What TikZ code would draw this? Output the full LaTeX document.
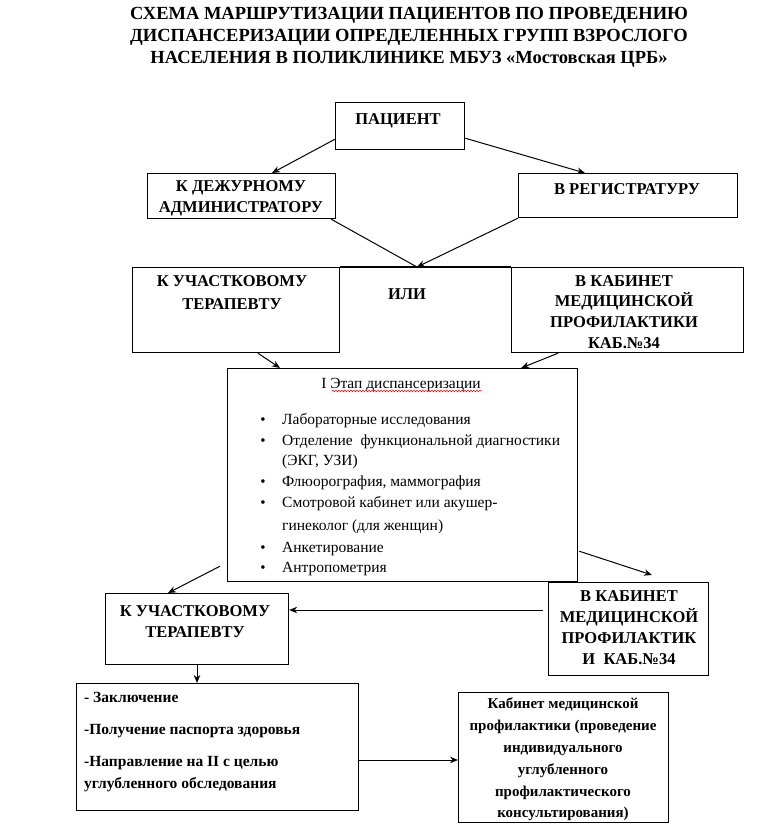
\documentclass[tikz,border=0pt]{standalone}
\usepackage{fontspec}
\setmainfont{Liberation Serif}[BoldFont={Liberation Serif Bold},ItalicFont={Liberation Serif Italic}]
\usetikzlibrary{arrows.meta,calc,decorations.pathmorphing}
\begin{document}
\begin{tikzpicture}[x=1pt,y=-1pt,
  box/.style={draw,line width=1.2pt,inner sep=0pt,anchor=north west},
  btxt/.style={font=\fontsize{16.5}{21}\selectfont\bfseries,align=center,anchor=north,inner sep=0pt},
  ltxt/.style={font=\fontsize{15.5}{18}\selectfont,anchor=base west,inner sep=0pt},
  bul/.style={font=\fontsize{15}{18}\selectfont,anchor=base,inner sep=0pt},
  arr/.style={line width=1pt,-{Stealth[length=8pt,width=6.5pt]}},
  ln/.style={line width=1pt}]
\useasboundingbox (0,0) rectangle (768,839);
% title
\node[font=\fontsize{18.5}{22}\selectfont\bfseries,align=center,anchor=north,inner sep=0pt] (title) at (409,7)
 {СХЕМА МАРШРУТИЗАЦИИ ПАЦИЕНТОВ ПО ПРОВЕДЕНИЮ\\ДИСПАНСЕРИЗАЦИИ ОПРЕДЕЛЕННЫХ ГРУПП ВЗРОСЛОГО\\НАСЕЛЕНИЯ В ПОЛИКЛИНИКЕ МБУЗ «Мостовская ЦРБ»};
% boxes
\node[box,minimum width=129pt,minimum height=47pt] (pac) at (335,102) {};
\node[btxt] (pact) at (398,113) {ПАЦИЕНТ};
\node[box,minimum width=188pt,minimum height=45pt] (dej) at (147,173) {};
\node[btxt] (dejt) at (241,180) {К ДЕЖУРНОМУ\\АДМИНИСТРАТОРУ};
\node[box,minimum width=219pt,minimum height=44pt] (reg) at (518,173) {};
\node[btxt] (regt) at (627,183) {В РЕГИСТРАТУРУ};
\node[box,minimum width=207pt,minimum height=85pt] (uch) at (132,267) {};
\node[btxt,font=\fontsize{16.5}{23}\selectfont\bfseries] (ucht) at (232,275) {К УЧАСТКОВОМУ\\ТЕРАПЕВТУ};
\node[btxt] (ili) at (407,288) {ИЛИ};
\node[box,minimum width=232pt,minimum height=85pt] (kab) at (511,267) {};
\node[btxt,font=\fontsize{16.5}{20.7}\selectfont\bfseries] (kabt) at (624,275) {В КАБИНЕТ\\МЕДИЦИНСКОЙ\\ПРОФИЛАКТИКИ\\КАБ.№34};
\draw[line width=1.2pt] (uch.north east) -- (kab.north west);
\coordinate (meet) at (417,267);
% big box
\node[box,minimum width=350pt,minimum height=213pt] (etap) at (227,368) {};
\node[font=\fontsize{15.5}{18}\selectfont,anchor=base,inner sep=0pt] (etapt) at (401,388) {I Этап диспансеризации};
\draw[red,line width=0.6pt,decorate,decoration={snake,amplitude=0.7pt,segment length=3pt}] ($(etapt.base west)+(11,3)$) -- ($(etapt.base east)+(0,3)$);
\foreach \y/\t [count=\i] in {424/Лабораторные исследования,445/{Отделение\ \ функциональной диагностики},465/{(ЭКГ, УЗИ)},486/{Флюорография, маммография},507/{Смотровой кабинет или акушер-},530/{гинеколог (для женщин)},552/Анкетирование,572/Антропометрия}{
  \node[ltxt] (li\i) at (282,\y) {\t};
}
\foreach \y [count=\i] in {424,445,486,507,552,572}{
  \node[bul] (b\i) at (263,\y) {•};
}
% second row
\node[box,minimum width=183pt,minimum height=71pt] (uch2) at (105,593) {};
\node[btxt] (uch2t) at (195,605) {К УЧАСТКОВОМУ\\ТЕРАПЕВТУ};
\node[box,minimum width=160pt,minimum height=93pt] (kab2) at (548,582) {};
\node[btxt,font=\fontsize{16.5}{21}\selectfont\bfseries] (kab2t) at (629,590) {В КАБИНЕТ\\МЕДИЦИНСКОЙ\\ПРОФИЛАКТИК\\И\ \ КАБ.№34};
% bottom
\node[box,minimum width=282pt,minimum height=127pt] (zak) at (76,683) {};
\node[font=\fontsize{15.5}{22}\selectfont\bfseries,align=left,anchor=north west,inner sep=0pt] (zakt) at (84,692)
 {- Заключение\\[10pt]-Получение паспорта здоровья\\[10pt]-Направление на II с целью\\углубленного обследования};
\node[box,minimum width=210pt,minimum height=130pt] (prof) at (458,692) {};
\node[font=\fontsize{15}{21.8}\selectfont\bfseries,align=center,anchor=north,inner sep=0pt] (proft) at (563,698)
 {Кабинет медицинской\\профилактики (проведение\\индивидуального\\углубленного\\профилактического\\консультирования)};
% connectors
\draw[arr] ($(pac.south west)+(0,-11)$) -- ($(dej.north west)+(125,0)$);
\draw[arr] ($(pac.south east)+(0,-12)$) -- ($(reg.north west)+(67,0)$);
\draw[ln] ($(dej.south east)+(-5,0)$) -- (meet);
\draw[arr] (reg.south west) -- (meet);
\draw[arr] ($(uch.south west)+(126,0)$) -- ($(etap.north west)+(53,0)$);
\draw[arr] ($(kab.south west)+(47,0)$) -- ($(etap.north east)+(-57,0)$);
\draw[arr] ($(etap.south west)+(-7,-16)$) -- ($(uch2.north west)+(63,0)$);
\draw[arr] ($(etap.south east)+(1,-31)$) -- ($(kab2.north west)+(104,-7)$);
\draw[arr] ($(kab2.north west)+(-5,28)$) -- ($(uch2.north east)+(0,17)$);
\draw[arr] ($(uch2.south west)+(92,0)$) -- ($(zak.north west)+(121,0)$);
\draw[arr] ($(zak.north east)+(0,77)$) -- ($(prof.north west)+(0,68)$);
\end{tikzpicture}
\end{document}
